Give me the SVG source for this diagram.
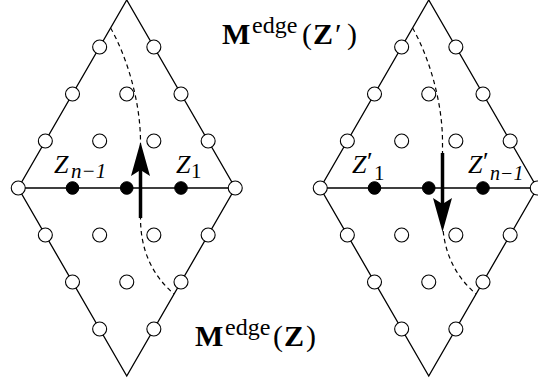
<svg xmlns="http://www.w3.org/2000/svg" width="538" height="383" viewBox="0 0 538 383">
<defs>
<style>
.edge{fill:none;stroke:#000;stroke-width:1.3}
.dash{fill:none;stroke:#000;stroke-width:1.2;stroke-dasharray:4.5 3.5}
.o{fill:#fff;stroke:#000;stroke-width:1.1}
.f{fill:#000;stroke:#000;stroke-width:1}
.shaft{stroke:#000;stroke-width:3.5}
.ah{fill:#000}
.t{font-family:"Liberation Serif",serif;fill:#000}
.b{font-weight:bold}
.i{font-style:italic}
.n{font-style:normal}
</style>
<g id="lat">
<circle class="o" cx="27.1" cy="-141" r="7"/>
<circle class="o" cx="-27.1" cy="-141" r="7"/>
<circle class="o" cx="54.25" cy="-94" r="7"/>
<circle class="o" cx="0" cy="-94" r="7"/>
<circle class="o" cx="-54.25" cy="-94" r="7"/>
<circle class="o" cx="81.4" cy="-47" r="7"/>
<circle class="o" cx="27.1" cy="-47" r="7"/>
<circle class="o" cx="-27.1" cy="-47" r="7"/>
<circle class="o" cx="-81.4" cy="-47" r="7"/>
<circle class="o" cx="108.5" cy="0" r="7"/>
<circle class="o" cx="-108.5" cy="0" r="7"/>
<circle class="f" cx="54.25" cy="0" r="6.3"/>
<circle class="f" cx="0" cy="0" r="6.3"/>
<circle class="f" cx="-54.25" cy="0" r="6.3"/>
<circle class="o" cx="81.4" cy="47" r="7"/>
<circle class="o" cx="27.1" cy="47" r="7"/>
<circle class="o" cx="-27.1" cy="47" r="7"/>
<circle class="o" cx="-81.4" cy="47" r="7"/>
<circle class="o" cx="54.25" cy="94" r="7"/>
<circle class="o" cx="0" cy="94" r="7"/>
<circle class="o" cx="-54.25" cy="94" r="7"/>
<circle class="o" cx="27.1" cy="141" r="7"/>
<circle class="o" cx="-27.1" cy="141" r="7"/>
</g>
</defs>
<g id="connectors">
<path class="edge" d="M126.75,0 L235.25,188 L126.75,376 L18.25,188 Z M18.25,188 H235.25"/>
<path class="edge" d="M428.75,0 L537.25,188 L428.75,376 L320.25,188 Z M320.25,188 H537.25"/>
<path class="dash" d="M110.6,28 C126,55 140.5,100 140.5,142 L140.5,218 C140.5,250 152,275 174,294"/>
<path class="dash" d="M412.6,28 C428,55 442.5,100 442.5,142 L442.5,218 C442.5,250 454,275 476,294"/>
</g>
<g id="left-diamond">
<use href="#lat" x="126.75" y="188"/>
</g>
<g id="right-diamond">
<use href="#lat" x="428.75" y="188"/>
</g>
<g id="arrow-up">
<line class="shaft" x1="140.5" y1="218" x2="140.5" y2="165"/>
<path class="ah" d="M140.5,142 L150,176 L140.5,170 L131,176 Z"/>
</g>
<g id="arrow-down">
<line class="shaft" x1="442.5" y1="153" x2="442.5" y2="205"/>
<path class="ah" d="M442.5,232 L452,198 L442.5,204 L433,198 Z"/>
</g>
<g id="labels">
<text class="t i" x="54" y="173" font-size="26">Z<tspan x="71" y="178" font-size="21">n−1</tspan></text>
<text class="t i" x="176" y="173" font-size="26">Z<tspan class="n" x="191" y="178" font-size="21">1</tspan></text>
<text class="t i" x="352" y="173" font-size="26">Z<tspan class="n" x="367" y="170" font-size="26">′</tspan><tspan class="n" x="374" y="180" font-size="21">1</tspan></text>
<text class="t i" x="468" y="173" font-size="26">Z<tspan class="n" x="483" y="170" font-size="26">′</tspan><tspan x="490" y="180" font-size="20">n−1</tspan></text>
<text class="t" y="44" font-size="30"><tspan class="b" x="222">M</tspan><tspan font-size="24" x="252" dy="-11">edge</tspan><tspan x="302" dy="11">(</tspan><tspan class="b" x="313">Z</tspan><tspan x="335">′</tspan><tspan x="347">)</tspan></text>
<text class="t" y="346" font-size="30"><tspan class="b" x="195">M</tspan><tspan font-size="24" x="225" dy="-11">edge</tspan><tspan x="273" dy="11">(</tspan><tspan class="b" x="284">Z</tspan><tspan x="306">)</tspan></text>
</g>
</svg>
